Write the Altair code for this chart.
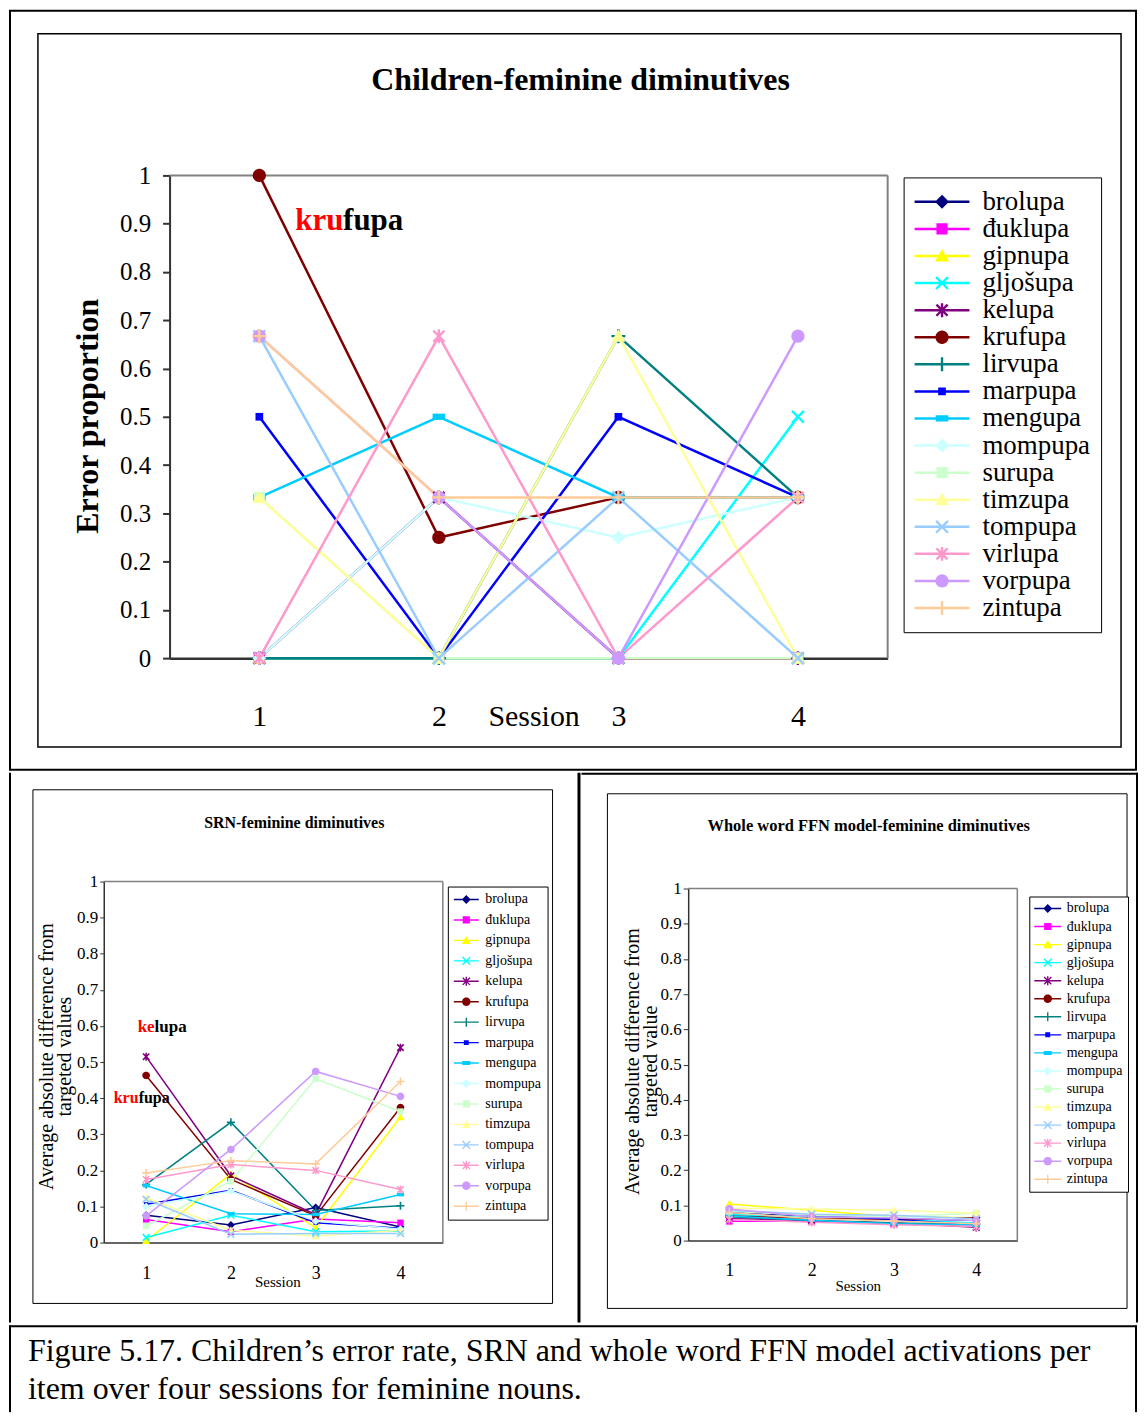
import math
import altair as alt
import pandas as pd

FONT = "Liberation Serif"

SERIES = ["brolupa", "đuklupa", "gipnupa", "gljošupa", "kelupa", "krufupa", "lirvupa",
          "marpupa", "mengupa", "mompupa", "surupa", "timzupa", "tompupa", "virlupa",
          "vorpupa", "zintupa"]
COLORS = ["#000080", "#FF00FF", "#FFFF00", "#00FFFF", "#800080", "#800000", "#008080",
          "#0000FF", "#00CCFF", "#CCFFFF", "#CCFFCC", "#FFFF99", "#99CCFF", "#FF99CC",
          "#CC99FF", "#FFCC99"]
MARKERS = ["diamond", "square", "triangle", "x", "star", "circle", "plus", "smallsq",
           "rect", "diamond", "square", "triangle", "x", "star", "circle", "plus"]
SESSIONS = [1, 2, 3, 4]
Y_TICKS = [0, 0.1, 0.2, 0.3, 0.4, 0.5, 0.6, 0.7, 0.8, 0.9, 1]

# Children's error proportion per session
CHILDREN = {
    "brolupa": [0, 0, 0, 0],
    "đuklupa": [0, 0, 0, 0],
    "gipnupa": [0, 0, 0, 0],
    "gljošupa": [0, 0, 0, 0.5],
    "kelupa": [0, 0.333, 0, 0],
    "krufupa": [1, 0.25, 0.333, 0.333],
    "lirvupa": [0, 0, 0.667, 0.333],
    "marpupa": [0.5, 0, 0.5, 0.333],
    "mengupa": [0.333, 0.5, 0.333, 0.333],
    "mompupa": [0, 0.333, 0.25, 0.333],
    "surupa": [0.333, 0, 0, 0],
    "timzupa": [0.333, 0, 0.667, 0],
    "tompupa": [0.667, 0, 0.333, 0],
    "virlupa": [0, 0.667, 0, 0.333],
    "vorpupa": [0.667, 0.333, 0, 0.667],
    "zintupa": [0.667, 0.333, 0.333, 0.333],
}

# SRN average absolute difference from targeted values
SRN = {
    "brolupa": [0.076, 0.049, 0.097, 0.043],
    "đuklupa": [0.064, 0.030, 0.065, 0.055],
    "gipnupa": [0.005, 0.190, 0.041, 0.348],
    "gljošupa": [0.014, 0.076, 0.030, 0.032],
    "kelupa": [0.515, 0.185, 0.078, 0.540],
    "krufupa": [0.463, 0.175, 0.074, 0.374],
    "lirvupa": [0.161, 0.333, 0.089, 0.102],
    "marpupa": [0.106, 0.145, 0.055, 0.040],
    "mengupa": [0.158, 0.080, 0.078, 0.133],
    "mompupa": [0.100, 0.143, 0.060, 0.037],
    "surupa": [0.046, 0.170, 0.454, 0.363],
    "timzupa": [0.124, 0.034, 0.018, 0.034],
    "tompupa": [0.120, 0.023, 0.025, 0.025],
    "virlupa": [0.175, 0.216, 0.200, 0.147],
    "vorpupa": [0.074, 0.258, 0.474, 0.405],
    "zintupa": [0.193, 0.227, 0.218, 0.446],
}

# Whole word FFN model average absolute difference from targeted value
FFN = {
    "brolupa": [0.080, 0.070, 0.062, 0.058],
    "đuklupa": [0.055, 0.055, 0.048, 0.045],
    "gipnupa": [0.104, 0.086, 0.068, 0.065],
    "gljošupa": [0.075, 0.065, 0.060, 0.050],
    "kelupa": [0.062, 0.058, 0.050, 0.038],
    "krufupa": [0.070, 0.063, 0.060, 0.065],
    "lirvupa": [0.068, 0.057, 0.050, 0.047],
    "marpupa": [0.082, 0.072, 0.060, 0.045],
    "mengupa": [0.070, 0.058, 0.048, 0.044],
    "mompupa": [0.085, 0.075, 0.068, 0.060],
    "surupa": [0.083, 0.072, 0.068, 0.078],
    "timzupa": [0.092, 0.090, 0.086, 0.078],
    "tompupa": [0.086, 0.075, 0.072, 0.062],
    "virlupa": [0.060, 0.052, 0.045, 0.040],
    "vorpupa": [0.090, 0.068, 0.064, 0.057],
    "zintupa": [0.080, 0.062, 0.056, 0.048],
}

CAPTION_1 = "Figure 5.17. Children\u2019s error rate, SRN and whole word FFN model activations per"
CAPTION_2 = "item over four sessions for feminine nouns."

ONE = pd.DataFrame({"k": [0]})


# ---------- symbol path helpers ----------
def poly_path(pts):
    n = len(pts)
    area = sum(pts[i][0] * pts[(i + 1) % n][1] - pts[(i + 1) % n][0] * pts[i][1] for i in range(n))
    if area < 0:
        pts = pts[::-1]
    return "M" + "L".join(f"{x:.3f},{y:.3f}" for x, y in pts) + "Z"


def bar(x1, y1, x2, y2, t):
    dx, dy = x2 - x1, y2 - y1
    L = math.hypot(dx, dy)
    nx, ny = -dy / L * t, dx / L * t
    return [(x1 + nx, y1 + ny), (x2 + nx, y2 + ny), (x2 - nx, y2 - ny), (x1 - nx, y1 - ny)]


def marker_polys(kind, t):
    if kind == "diamond":
        return [[(0, -1), (1, 0), (0, 1), (-1, 0)]]
    if kind == "square":
        return [[(-0.8, -0.8), (0.8, -0.8), (0.8, 0.8), (-0.8, 0.8)]]
    if kind == "triangle":
        return [[(0, -1), (1, 0.8), (-1, 0.8)]]
    if kind == "x":
        return [bar(-0.85, -0.85, 0.85, 0.85, t), bar(-0.85, 0.85, 0.85, -0.85, t)]
    if kind == "star":
        return [bar(-0.8, -0.8, 0.8, 0.8, t), bar(-0.8, 0.8, 0.8, -0.8, t), bar(0, -1, 0, 1, t)]
    if kind == "circle":
        return [[(0.95 * math.cos(2 * math.pi * i / 24), 0.95 * math.sin(2 * math.pi * i / 24))
                 for i in range(24)]]
    if kind == "plus":
        return [bar(-1, 0, 1, 0, t), bar(0, -1, 0, 1, t)]
    if kind == "smallsq":
        return [[(-0.55, -0.55), (0.55, -0.55), (0.55, 0.55), (-0.55, 0.55)]]
    if kind == "rect":
        return [[(-0.9, -0.45), (0.9, -0.45), (0.9, 0.45), (-0.9, 0.45)]]
    raise ValueError(kind)


def marker_path(kind, t):
    return " ".join(poly_path(p) for p in marker_polys(kind, t))


def legend_path(kind, half_len, m, t, w):
    """Line of half length `half_len` with a marker of half size `m` (symbol units)."""
    polys = [[(-half_len, -w), (half_len, -w), (half_len, w), (-half_len, w)]]
    polys += [[(x * m, y * m) for x, y in p] for p in marker_polys(kind, t)]
    return " ".join(poly_path(p) for p in polys)


def long_df(table):
    rows = []
    for name in SERIES:
        for s, v in zip(SESSIONS, table[name]):
            rows.append({"series": name, "session": s, "value": v})
    return pd.DataFrame(rows)


# ---------- decoration helpers (panel-relative pixel positions) ----------
def box(x1, y1, x2, y2, sw, color="black"):
    return alt.Chart(ONE).mark_rect(fill="transparent", stroke=color, strokeWidth=sw).encode(
        x=alt.value(x1), x2=alt.value(x2), y=alt.value(y1), y2=alt.value(y2))


def layout_box(x1, y1, x2, y2):
    return alt.Chart(ONE).mark_rect(fill="transparent", strokeWidth=0).encode(
        x=alt.value(x1), x2=alt.value(x2), y=alt.value(y1), y2=alt.value(y2))


def hrule(x1, x2, y, sw, color="black"):
    return alt.Chart(ONE).mark_rule(color=color, strokeWidth=sw).encode(
        x=alt.value(x1), x2=alt.value(x2), y=alt.value(y))


def vrule(x, y1, y2, sw, color="black"):
    return alt.Chart(ONE).mark_rule(color=color, strokeWidth=sw).encode(
        x=alt.value(x), y=alt.value(y1), y2=alt.value(y2))


def label(text, x, y, size, weight="normal", color="black", align="left"):
    return alt.Chart(ONE).mark_text(
        text=text, align=align, baseline="alphabetic", font=FONT, fontSize=size,
        fontWeight=weight, color=color).encode(x=alt.value(x), y=alt.value(y))


# ---------- panel builder ----------
# Each panel's group origin is the top-left corner of its boxed region; the plot
# rectangle (px1, py1)-(px2, py2) is placed through the scale ranges.
def build_panel(table, P):
    df = long_df(table)
    base = alt.Chart(df)
    px1, py1, px2, py2 = P["plot"]
    W, H = P["w"], P["h"]
    x_enc = alt.X(
        "session:O", sort=SESSIONS,
        scale=alt.Scale(type="point", padding=0.5, range=[px1, px2]),
        axis=alt.Axis(
            offset=py2 - H,
            title="Session", titleX=P["sx"], titleY=P["sy"], titleAlign="center",
            titleBaseline="alphabetic", titleFont=FONT, titleFontSize=P["sfs"],
            titleFontWeight="normal", titleColor="black",
            labelFont=FONT, labelFontSize=P["xfs"], labelColor="black", labelAngle=0,
            labelBaseline="alphabetic", labelPadding=P["xlp"], ticks=False, tickSize=0,
            domainColor="#333333", domainWidth=P["xdw"], grid=False))
    y_enc = alt.Y(
        "value:Q", scale=alt.Scale(domain=[0, 1], nice=False, range=[py2, py1]),
        axis=alt.Axis(
            offset=-px1,
            values=Y_TICKS, format="~g", grid=False,
            title=P["ytitle"], titleX=P["ytx"], titleY=P["yty"], titleAngle=270,
            titleAlign="center", titleBaseline="middle", titleFont=FONT,
            titleFontSize=P["ytfs"], titleFontWeight=P["ytfw"], titleColor="black",
            titleLineHeight=P["ytlh"],
            labelFont=FONT, labelFontSize=P["yfs"], labelColor="black", labelPadding=P["ylp"],
            labelFlush=False, labelOverlap=False, labelBaseline="middle",
            tickSize=P["yts"], tickColor="#333333", tickWidth=P["ytw"],
            domainColor="#333333", domainWidth=P["ydw"]))

    color_scale = alt.Scale(domain=SERIES, range=COLORS)
    mpaths = [marker_path(k, P["mt"]) for k in MARKERS]

    # legend symbols: layout size == label font size, the drawn line extends beyond
    lf = P["lfs"]
    unit = lf / 2.0
    lpaths = [legend_path(k, P["line_len"] / 2.0 / unit, P["mk_half"] / unit, P["lt"],
                          P["bar_half"] / unit) for k in MARKERS]
    sym_off = P["line_len"] / 2.0 - lf / 2.0

    leg = alt.Legend(
        title=None, orient="none", legendX=P["legx"], legendY=P["legy"], direction="vertical",
        labelFont=FONT, labelFontSize=lf, labelColor="black", labelOffset=P["lab_off"],
        labelLimit=400, symbolSize=lf * lf, symbolOffset=sym_off, symbolStrokeWidth=0,
        symbolOpacity=1, padding=P["lpad"], rowPadding=P["lrow"], strokeColor="black",
        fillColor="white")

    lines = base.mark_line(strokeWidth=P["lw"]).encode(
        x=x_enc, y=y_enc,
        color=alt.Color("series:N", scale=color_scale, legend=None))
    points = base.mark_point(filled=True, opacity=1, size=P["ms"], strokeWidth=0).encode(
        x=x_enc, y=y_enc,
        color=alt.Color("series:N", scale=color_scale, legend=None),
        shape=alt.Shape("series:N", scale=alt.Scale(domain=SERIES, range=mpaths), legend=None))
    legend_layer = base.transform_filter("false").mark_point(
        filled=True, opacity=1, strokeWidth=0).encode(
        color=alt.Color("series:N", scale=color_scale, legend=leg),
        shape=alt.Shape("series:N", scale=alt.Scale(domain=SERIES, range=lpaths), legend=leg))

    plot_border = [
        hrule(px1, px2, py1, P["vsw"], "#808080"),
        vrule(px2, py1, py2, P["vsw"], "#808080"),
    ]
    layers = [layout_box(0, 0, W, H)] + P["deco"] + plot_border + [lines, points, legend_layer] + P["texts"]
    return alt.layer(*layers).resolve_scale(color="independent", shape="independent").properties(
        width=W, height=H, view=alt.ViewBackground(strokeWidth=0))


# ---------- top panel (children): region page (8,8)-(1139,771) ----------
TOP = dict(
    w=1131, h=763, plot=(161, 166, 881, 650), vsw=2,
    sx=526, sy=68, sfs=30, xfs=30, xlp=68, xdw=2.5,
    ytitle="Error proportion", ytx=-82, yty=407, ytfs=32, ytfw="bold", ytlh=32,
    yfs=25, ylp=12, yts=7, ytw=2, ydw=2,
    lw=2.5, ms=196, mt=0.17,
    line_len=55, mk_half=7, lt=0.17, bar_half=1.25, lab_off=27,
    legx=897, legy=168, lfs=27, lpad=11, lrow=-0.85,
    deco=[
        box(1, 1, 1130, 762, 2),
        box(29, 24, 1115, 739, 1.5),
    ],
    texts=[
        label("Children-feminine diminutives", 573, 80, 32, "bold", align="center"),
        label("kru", 287, 221, 31, "bold", color="#FF0000"),
        label("fupa", 335, 221, 31, "bold"),
    ],
)

# ---------- bottom-left panel (SRN): region page (8,771)-(581,1322) ----------
BL = dict(
    w=573, h=551, plot=(95, 109, 435, 471), vsw=1.5,
    sx=269, sy=44, sfs=15, xfs=18, xlp=36, xdw=1.5,
    ytitle=["Average absolute difference from", "targeted values"], ytx=-57, yty=284,
    ytfs=20, ytfw="normal", ytlh=18,
    yfs=17, ylp=2, yts=4, ytw=1, ydw=1.5,
    lw=1.5, ms=64, mt=0.2,
    line_len=25, mk_half=4.5, lt=0.155, bar_half=0.7, lab_off=12,
    legx=440, legy=114, lfs=14, lpad=6, lrow=6.5,
    deco=[
        vrule(1, 0, 551, 2),
        vrule(571.5, 0, 551, 3),
        box(24, 17, 545, 532, 1),
    ],
    texts=[
        label("SRN-feminine diminutives", 286, 55, 16, "bold", align="center"),
        label("ke", 129, 260, 17, "bold", color="#FF0000"),
        label("lupa", 146, 260, 17, "bold"),
        label("kru", 105, 331, 16, "bold", color="#FF0000"),
        label("fupa", 130, 331, 16, "bold"),
    ],
)

# ---------- bottom-right panel (FFN): region page (581,771)-(1139,1322) ----------
BR = dict(
    w=558, h=551, plot=(107, 116, 437, 469), vsw=1.5,
    sx=277, sy=50, sfs=15, xfs=18, xlp=35, xdw=1.5,
    ytitle=["Average absolute difference from", "targeted value"], ytx=-56, yty=289,
    ytfs=20, ytfw="normal", ytlh=18,
    yfs=17, ylp=2, yts=5, ytw=1, ydw=1.5,
    lw=1.5, ms=72, mt=0.19,
    line_len=27, mk_half=4.5, lt=0.155, bar_half=0.7, lab_off=12,
    legx=449, legy=124, lfs=14, lpad=5, lrow=4.1,
    deco=[
        hrule(0, 558, 1, 2),
        vrule(557, 0, 551, 2),
        box(26, 21, 547, 537, 1),
    ],
    texts=[
        label("Whole word FFN model-feminine diminutives", 288, 58, 16.5, "bold", align="center"),
    ],
)

top = build_panel(CHILDREN, TOP)
bl = build_panel(SRN, BL)
br = build_panel(FFN, BR)

caption = alt.layer(
    layout_box(0, 0, 1131, 87),
    hrule(0, 1131, 1, 2),
    vrule(1, 0, 87, 2),
    vrule(1130, 0, 87, 2),
    label(CAPTION_1, 19, 36, 32),
    label(CAPTION_2, 19, 74, 32),
).properties(width=1131, height=87, view=alt.ViewBackground(strokeWidth=0))

bottom = alt.concat(bl, br, columns=2, spacing=0, align="none", bounds="full").resolve_scale(
    color="independent", shape="independent")

chart = alt.concat(top, bottom, caption, columns=1, spacing=0, align="none", bounds="full").resolve_scale(
    color="independent", shape="independent"
).properties(padding=0, background="white").configure(font=FONT)

chart.save("out.html", embed_options={"renderer": "svg", "actions": False})
